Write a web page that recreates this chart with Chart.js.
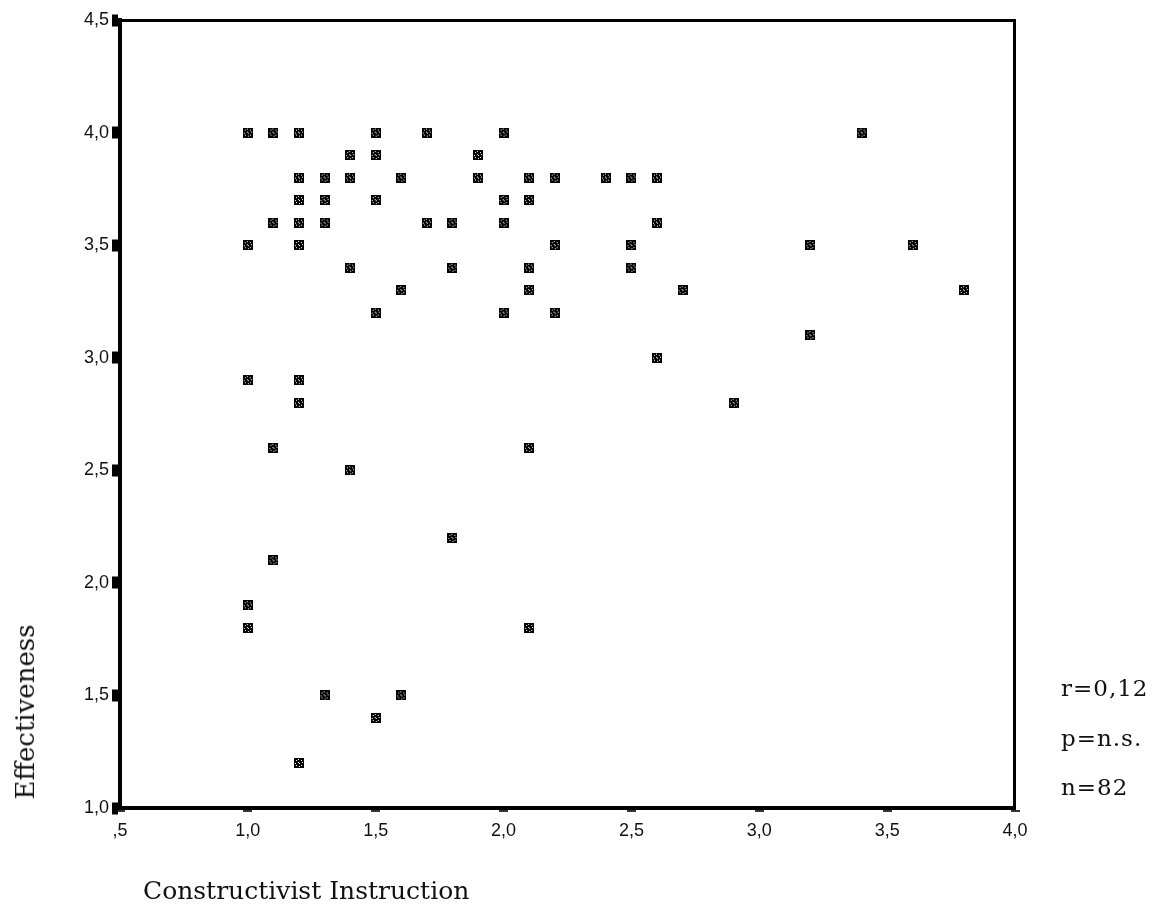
<!DOCTYPE html>
<html>
<head>
<meta charset="utf-8">
<script src="https://cdn.jsdelivr.net/npm/chart.js@4.4.1/dist/chart.umd.min.js"></script>
<style>
  html, body { margin: 0; padding: 0; background: #fff; }
  #wrap { position: relative; width: 1158px; height: 910px; }
  .serif { position: absolute; font-family: 'DejaVu Serif', 'Liberation Serif', serif; color: #111; white-space: nowrap; line-height: 1; }
  #ytitle { left: 25px; top: 712px; font-size: 26px; transform: translate(-50%, -50%) rotate(-90deg); }
  #xtitle { left: 143px; top: 878px; font-size: 25px; }
  .stat { left: 1061px; font-size: 23px; letter-spacing: 1px; transform: translateY(-50%); }
</style>
</head>
<body>
<div id="wrap">
  <canvas id="scatter" width="1158" height="910"></canvas>
  <div class="serif" id="ytitle">Effectiveness</div>
  <div class="serif" id="xtitle">Constructivist Instruction</div>
  <div class="serif stat" style="top:688px;">r=0,12</div>
  <div class="serif stat" style="top:738px;">p=n.s.</div>
  <div class="serif stat" style="top:787px;">n=82</div>
</div>
<script>
// valores (Constructivist Instruction x Effectiveness)
const instrucao = [
  1.0, 1.1, 1.2, 1.5, 1.7, 2.0, 3.4,
  1.4, 1.5, 1.9,
  1.2, 1.3, 1.4, 1.6, 1.9, 2.1, 2.2, 2.4, 2.5, 2.6,
  1.2, 1.3, 1.5, 2.0, 2.1,
  1.1, 1.2, 1.3, 1.7, 1.8, 2.0, 2.6,
  1.0, 1.2, 2.2, 2.5, 3.2, 3.6,
  1.4, 1.8, 2.1, 2.5,
  1.6, 2.1, 2.7, 3.8,
  1.5, 2.0, 2.2,
  3.2,
  2.6,
  1.0, 1.2,
  1.2, 2.9,
  1.1, 2.1,
  1.4,
  1.8,
  1.1,
  1.0,
  1.0, 2.1,
  1.3, 1.6,
  1.5,
  1.2
];
const efetividade = [
  4.0, 4.0, 4.0, 4.0, 4.0, 4.0, 4.0,
  3.9, 3.9, 3.9,
  3.8, 3.8, 3.8, 3.8, 3.8, 3.8, 3.8, 3.8, 3.8, 3.8,
  3.7, 3.7, 3.7, 3.7, 3.7,
  3.6, 3.6, 3.6, 3.6, 3.6, 3.6, 3.6,
  3.5, 3.5, 3.5, 3.5, 3.5, 3.5,
  3.4, 3.4, 3.4, 3.4,
  3.3, 3.3, 3.3, 3.3,
  3.2, 3.2, 3.2,
  3.1,
  3.0,
  2.9, 2.9,
  2.8, 2.8,
  2.6, 2.6,
  2.5,
  2.2,
  2.1,
  1.9,
  1.8, 1.8,
  1.5, 1.5,
  1.4,
  1.2
];
const xTicks = [0.5, 1.0, 1.5, 2.0, 2.5, 3.0, 3.5, 4.0];
const yTicks = [1.0, 1.5, 2.0, 2.5, 3.0, 3.5, 4.0, 4.5];

// formato SPSS: vírgula decimal e sem zero à esquerda (",5")
function rotulo(v) {
  let s = v.toFixed(1).replace('.', ',');
  if (s.startsWith('0,')) s = s.slice(1);
  return s;
}

// marcador: quadradinho preto com pontos brancos
function criaMarcador() {
  const c = document.createElement('canvas');
  c.width = 10; c.height = 10;
  const g = c.getContext('2d');
  g.fillStyle = '#000';
  g.fillRect(0, 0, 10, 10);
  g.fillStyle = '#fff';
  [[2,2],[7,2],[2,7],[7,7],[4,4],[5,5],[4,1],[1,5],[8,4],[5,8]].forEach(p => g.fillRect(p[0], p[1], 1, 1));
  return c;
}

const pontos = instrucao.map((x, i) => ({ x: x, y: efetividade[i] }));

// moldura do gráfico (topo e direita mais finos)
const moldura = {
  id: 'moldura',
  afterDatasetsDraw(chart) {
    const a = chart.chartArea, ctx = chart.ctx;
    ctx.save();
    ctx.strokeStyle = '#000';
    ctx.lineWidth = 3;
    ctx.beginPath();
    ctx.moveTo(a.left, a.top + 0.5);
    ctx.lineTo(a.right - 0.5, a.top + 0.5);
    ctx.lineTo(a.right - 0.5, a.bottom);
    ctx.stroke();
    ctx.restore();
  }
};

new Chart(document.getElementById('scatter'), {
  type: 'scatter',
  data: {
    datasets: [{
      data: pontos,
      pointStyle: criaMarcador(),
      pointRadius: 5,
      pointHoverRadius: 5
    }]
  },
  options: {
    responsive: false,
    animation: false,
    layout: { padding: { left: 0, top: 20, right: 143, bottom: 62 } },
    plugins: { legend: { display: false }, tooltip: { enabled: false } },
    scales: {
      x: {
        type: 'linear',
        min: 0.5, max: 4.0,
        afterBuildTicks: s => { s.ticks = xTicks.map(v => ({ value: v })); },
        afterFit: s => { s.height = 40; },
        border: { display: true, color: '#000', width: 4 },
        grid: { drawOnChartArea: false, tickLength: 4, tickWidth: 9, tickColor: '#333' },
        ticks: {
          color: '#111', padding: 8,
          font: { family: "'Liberation Sans', Arial, sans-serif", size: 18 },
          callback: v => rotulo(v)
        }
      },
      y: {
        type: 'linear',
        min: 1.0, max: 4.5,
        afterBuildTicks: s => { s.ticks = yTicks.map(v => ({ value: v })); },
        afterFit: s => { s.width = 120; },
        border: { display: true, color: '#000', width: 4 },
        grid: { drawOnChartArea: false, tickLength: 8, tickWidth: 12, tickColor: '#000' },
        ticks: {
          color: '#111', padding: 3,
          font: { family: "'Liberation Sans', Arial, sans-serif", size: 18 },
          callback: v => rotulo(v)
        }
      }
    }
  },
  plugins: [moldura]
});
</script>
</body>
</html>
